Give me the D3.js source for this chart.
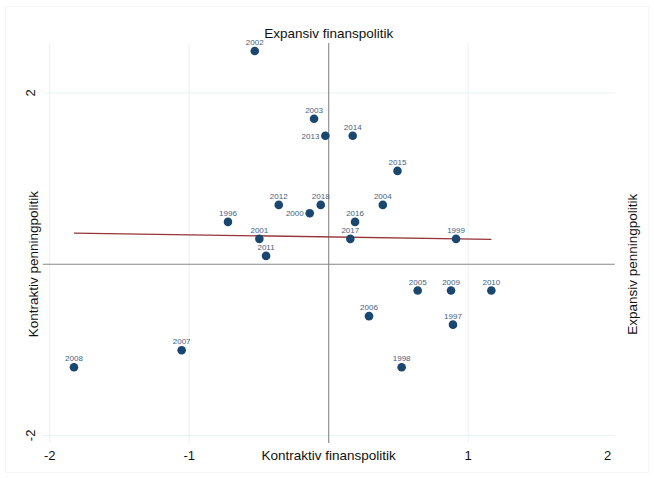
<!DOCTYPE html>
<html>
<head>
<meta charset="utf-8">
<script src="https://cdn.jsdelivr.net/npm/d3@7"></script>
<style>
  html, body { margin: 0; padding: 0; background: #fff; }
  svg { display: block; font-family: "Liberation Sans", Arial, sans-serif; }
</style>
</head>
<body>
<svg id="chart" width="654" height="478"></svg>
<script>
// Years with fiscal stance (x) and monetary stance (y)
const years = ["1996","1997","1998","1999","2000","2001","2002","2003","2004","2005",
               "2006","2007","2008","2009","2010","2011","2012","2013","2014","2015",
               "2016","2017","2018"];
const fiscal = [-0.722, 0.891, 0.523, 0.913, -0.136, -0.497, -0.530, -0.105, 0.388, 0.638,
                0.289, -1.054, -1.826, 0.877, 1.166, -0.449, -0.358, -0.024, 0.172, 0.493,
                0.189, 0.155, -0.057];
const monetary = [0.494, -0.706, -1.203, 0.296, 0.596, 0.296, 2.49, 1.70, 0.693, -0.308,
                  -0.607, -1.005, -1.203, -0.308, -0.308, 0.097, 0.693, 1.50, 1.50, 1.09,
                  0.494, 0.296, 0.693];
// Linear fit endpoints
const fitX = [-1.826, 1.166];
const fitY = [0.364, 0.290];
// Axis ticks
const xTicks = [-2, -1, 1, 2];
const yTicks = [-2, 2];
const xGrid = [-2, -1, 1];
const yGrid = [-2, 2];

const svg = d3.select("#chart");

const x = d3.scaleLinear().domain([-2, 2]).range([49.7, 607.7]);
const y = d3.scaleLinear().domain([-2, 2]).range([435.4, 93.0]);

// plot region extents
const xMin = -2.05, xMax = 2.05, yMin = -2.09, yMax = 2.585;

// outer frame
svg.append("rect").attr("x", 5.5).attr("y", 6.5).attr("width", 643).attr("height", 466)
  .attr("fill", "none").attr("stroke", "#f3f5f6").attr("stroke-width", 1);

// grid
svg.append("g").selectAll("line").data(xGrid).join("line")
  .attr("x1", d => x(d)).attr("x2", d => x(d))
  .attr("y1", y(yMax)).attr("y2", y(yMin))
  .attr("stroke", "#ebf1f3").attr("stroke-width", 1);
svg.append("g").selectAll("line").data(yGrid).join("line")
  .attr("x1", x(xMin)).attr("x2", x(xMax))
  .attr("y1", d => y(d)).attr("y2", d => y(d))
  .attr("stroke", "#ebf1f3").attr("stroke-width", 1);

// zero lines
svg.append("line").attr("x1", x(0)).attr("x2", x(0)).attr("y1", y(yMax)).attr("y2", y(yMin))
  .attr("stroke", "#888").attr("stroke-width", 1.1);
svg.append("line").attr("x1", x(xMin)).attr("x2", x(xMax)).attr("y1", y(0)).attr("y2", y(0))
  .attr("stroke", "#888").attr("stroke-width", 1.1);

// fit line
svg.append("path")
  .datum(fitX.map((v, i) => [v, fitY[i]]))
  .attr("d", d3.line().x(d => x(d[0])).y(d => y(d[1])))
  .attr("fill", "none").attr("stroke", "#973339").attr("stroke-width", 1.3);

// points
const pts = years.map((yr, i) => ({ yr, fx: fiscal[i], my: monetary[i] }));
const leftLabels = new Set(["2013", "2000"]);
svg.append("g").selectAll("circle").data(pts).join("circle")
  .attr("cx", d => x(d.fx)).attr("cy", d => y(d.my)).attr("r", 4.3)
  .attr("fill", "#1a476f");

// point labels
svg.append("g").selectAll("text").data(pts).join("text")
  .attr("x", d => leftLabels.has(d.yr) ? x(d.fx) - 6 : x(d.fx))
  .attr("y", d => leftLabels.has(d.yr) ? y(d.my) + 3 : y(d.my) - 6)
  .attr("text-anchor", d => leftLabels.has(d.yr) ? "end" : "middle")
  .attr("font-size", 8).attr("fill", "#46617f")
  .text(d => d.yr);

// x tick labels
svg.append("g").selectAll("text").data(xTicks).join("text")
  .attr("x", d => x(d)).attr("y", 460).attr("text-anchor", "middle")
  .attr("font-size", 13).attr("fill", "#111").text(d => d);

// y tick labels (rotated)
svg.append("g").selectAll("text").data(yTicks).join("text")
  .attr("transform", d => `translate(35,${y(d)}) rotate(-90)`)
  .attr("text-anchor", "middle")
  .attr("font-size", 13).attr("fill", "#111").text(d => d);

// axis titles
svg.append("text").attr("x", x(0)).attr("y", 38).attr("text-anchor", "middle")
  .attr("font-size", 13.5).attr("fill", "#111").text("Expansiv finanspolitik");
svg.append("text").attr("x", x(0)).attr("y", 460).attr("text-anchor", "middle")
  .attr("font-size", 13.5).attr("fill", "#111").text("Kontraktiv finanspolitik");
svg.append("text").attr("transform", `translate(38,${y(0)}) rotate(-90)`)
  .attr("text-anchor", "middle").attr("font-size", 13.5).attr("fill", "#111")
  .text("Kontraktiv penningpolitik");
svg.append("text").attr("transform", `translate(637,${y(0)}) rotate(-90)`)
  .attr("text-anchor", "middle").attr("font-size", 13.5).attr("fill", "#111")
  .text("Expansiv penningpolitik");
</script>
</body>
</html>
